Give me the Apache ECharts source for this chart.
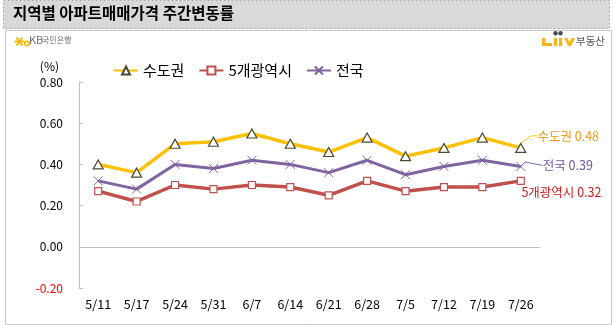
<!DOCTYPE html>
<html>
<head>
<meta charset="utf-8">
<script src="https://cdn.jsdelivr.net/npm/echarts@6/dist/echarts.min.js"></script>
<style>
  html, body { margin: 0; padding: 0; background: #fff; }
  #chart { width: 613px; height: 325px; }
</style>
</head>
<body>
<div id="chart"></div>
<script>
// Weekly apartment price change rate by region (%)
const weeks = ['5/11', '5/17', '5/24', '5/31', '6/7', '6/14', '6/21', '6/28', '7/5', '7/12', '7/19', '7/26'];
const capitalArea = [0.40, 0.36, 0.50, 0.51, 0.55, 0.50, 0.46, 0.53, 0.44, 0.48, 0.53, 0.48];
const fiveMetroCities = [0.27, 0.22, 0.30, 0.28, 0.30, 0.29, 0.25, 0.32, 0.27, 0.29, 0.29, 0.32];
const nationwide = [0.32, 0.28, 0.40, 0.38, 0.42, 0.40, 0.36, 0.42, 0.35, 0.39, 0.42, 0.39];
const yTicks = { min: -0.2, max: 0.8, step: 0.2 };

const FONT = '"Noto Sans CJK KR", "Noto Sans", sans-serif';
const COLORS = { capital: '#FFC000', metro: '#C0504D', nation: '#8064A2' };

const chart = echarts.init(document.getElementById('chart'), null, { renderer: 'canvas' });

// attach an end label to the last point of a series
function withEndLabel(values, name, color) {
  return values.map((v, i) => {
    if (i !== values.length - 1) return v;
    return {
      value: v,
      label: { show: true, position: 'right', distance: 0, formatter: name + ' ' + v.toFixed(2), color: color, fontSize: 12.5, fontFamily: FONT }
    };
  });
}

// moves the end label and keeps a guide line to the point
function endLabelLayout(dx, dy) {
  return params => (params.dataIndex === weeks.length - 1 ? { dx: dx, dy: dy } : {});
}

const crossPath = 'path://M0,0L10,10M10,0L0,10';

const option = {
  animation: false,
  textStyle: { fontFamily: FONT },
  legend: {
    top: 58,
    left: 108,
    itemWidth: 24,
    itemHeight: 10,
    itemGap: 14,
    textStyle: { fontSize: 15, color: '#000', fontFamily: FONT },
    data: ['수도권', '5개광역시', '전국']
  },
  grid: { left: 79, right: 73, top: 82, bottom: 37 },
  xAxis: {
    type: 'category',
    data: weeks,
    boundaryGap: true,
    axisLine: { show: false },
    axisTick: { show: false },
    axisLabel: { color: '#000', fontSize: 12.5, margin: 10, fontFamily: FONT }
  },
  yAxis: {
    type: 'value',
    min: yTicks.min,
    max: yTicks.max,
    interval: yTicks.step,
    name: '(%)',
    nameLocation: 'end',
    nameGap: 10,
    nameTextStyle: { color: '#000', fontSize: 12, align: 'right', padding: [0, 20, 0, 0], fontFamily: FONT },
    axisLine: { show: true, lineStyle: { color: '#bfbfbf', width: 1 } },
    axisTick: { show: true, inside: true, length: 4, lineStyle: { color: '#bfbfbf' } },
    splitLine: { show: false },
    axisLabel: {
      margin: 16,
      fontSize: 12,
      fontFamily: FONT,
      formatter: v => v.toFixed(2),
      color: v => (Number(v) < 0 ? '#FF0000' : '#000')
    }
  },
  series: [
    {
      name: '수도권',
      type: 'line',
      data: withEndLabel(capitalArea, '수도권', '#EE9A1A'),
      labelLayout: endLabelLayout(11, -12),
      labelLine: { show: true, length2: 6, lineStyle: { color: '#FFC000', width: 1 } },
      lineStyle: { color: COLORS.capital, width: 3.5 },
      itemStyle: { color: '#fff', borderColor: '#4a4a30', borderWidth: 1.2 },
      symbol: 'triangle',
      symbolSize: [10, 9],
      showAllSymbol: true,
      z: 3,
      markLine: {
        silent: true,
        symbol: 'none',
        label: { show: false },
        lineStyle: { color: '#bfbfbf', width: 1, type: 'solid' },
        data: [{ yAxis: 0 }]
      }
    },
    {
      name: '5개광역시',
      type: 'line',
      data: withEndLabel(fiveMetroCities, '5개광역시', '#D01818'),
      labelLayout: endLabelLayout(-3.5, 11),
      lineStyle: { color: COLORS.metro, width: 3.5 },
      itemStyle: { color: '#fff', borderColor: COLORS.metro, borderWidth: 1.2 },
      symbol: 'rect',
      symbolSize: 7,
      showAllSymbol: true,
      z: 2
    },
    {
      name: '전국',
      type: 'line',
      data: withEndLabel(nationwide, '전국', '#7352A8'),
      labelLayout: endLabelLayout(15, -1),
      labelLine: { show: true, lineStyle: { color: COLORS.nation, width: 1 } },
      lineStyle: { color: COLORS.nation, width: 3 },
      itemStyle: { color: 'none', borderColor: COLORS.nation, borderWidth: 1 },
      symbol: crossPath,
      symbolSize: 9,
      showAllSymbol: true,
      z: 2
    }
  ],
  graphic: [
    // title bar
    {
      type: 'rect', left: 3, top: 0, z: -1,
      shape: { width: 606, height: 28 },
      style: { fill: '#d9d9d9', stroke: '#a6a6a6', lineWidth: 1, lineDash: [2, 2] }
    },
    {
      type: 'text', left: 13, top: 5,
      style: { text: '지역별 아파트매매가격 주간변동률', fill: '#000', font: 'bold 15.5px ' + FONT }
    },
    // outer frame
    {
      type: 'rect', left: 3, top: 28, z: -1,
      shape: { width: 606, height: 294 },
      style: { fill: 'none', stroke: '#c8c8c8', lineWidth: 1 }
    },
    // KB logo
    {
      type: 'group', left: 12, top: 35,
      children: [
        { type: 'line', shape: { x1: 0, y1: 4, x2: 10, y2: 4 }, style: { stroke: '#F5B400', lineWidth: 1.8 } },
        { type: 'line', shape: { x1: 2, y1: 0, x2: 8, y2: 8 }, style: { stroke: '#F5B400', lineWidth: 1.8 } },
        { type: 'line', shape: { x1: 8, y1: 0, x2: 2, y2: 8 }, style: { stroke: '#F5B400', lineWidth: 1.8 } },
        { type: 'circle', shape: { cx: 12.5, cy: 6, r: 2.3 }, style: { fill: 'none', stroke: '#F5B400', lineWidth: 1.5 } }
      ]
    },
    {
      type: 'text', left: 29, top: 34,
      style: { text: 'KB', fill: '#6e6e6e', font: '11px ' + FONT }
    },
    {
      type: 'text', left: 42, top: 35.5,
      style: { text: '국민은행', fill: '#6e6e6e', font: '8px ' + FONT }
    },
    // Liiv logo
    {
      type: 'group', left: 542, top: 31,
      children: [
        { type: 'circle', shape: { cx: 13.5, cy: 2.2, r: 2.2 }, style: { fill: '#4a4a4a' } },
        { type: 'circle', shape: { cx: 18.5, cy: 2.2, r: 2.2 }, style: { fill: '#4a4a4a' } },
        { type: 'polygon', shape: { points: [[0, 7], [3.5, 7], [3.5, 12], [10, 12], [10, 15], [0, 15]] }, style: { fill: '#F7B51C' } },
        { type: 'rect', shape: { x: 12, y: 7, width: 3.2, height: 8 }, style: { fill: '#F7B51C' } },
        { type: 'rect', shape: { x: 17, y: 7, width: 3.2, height: 8 }, style: { fill: '#F7B51C' } },
        { type: 'polygon', shape: { points: [[22, 7], [25.5, 7], [27.5, 11.5], [29.5, 7], [33, 7], [29, 15], [26, 15]] }, style: { fill: '#F7B51C' } }
      ]
    },
    {
      type: 'text', left: 576, top: 36,
      style: { text: '부동산', fill: '#555', font: '10.5px ' + FONT }
    }
  ]
};

chart.setOption(option);
</script>
</body>
</html>
